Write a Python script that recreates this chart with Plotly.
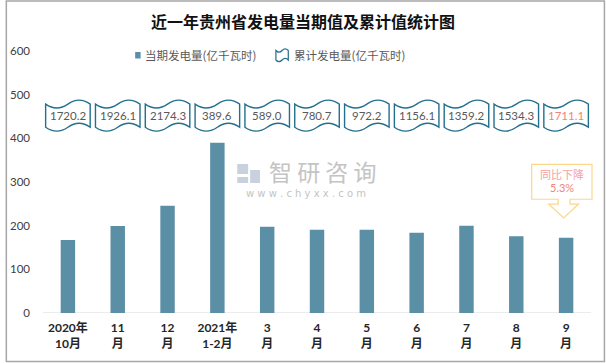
import plotly.graph_objects as go

# ---------------- data ----------------
categories = ["2020年<br>10月", "11<br>月", "12<br>月", "2021年<br>1-2月", "3<br>月", "4<br>月",
              "5<br>月", "6<br>月", "7<br>月", "8<br>月", "9<br>月"]
current_values = [167.2, 199.5, 245.6, 389.6, 197.5, 190.9, 190.6, 183.9, 199.9, 176.0, 172.5]
cumulative_values = [1720.2, 1926.1, 2174.3, 389.6, 589.0, 780.7, 972.2, 1156.1, 1359.2, 1534.3, 1711.1]
y_ticks = [0, 100, 200, 300, 400, 500, 600]
series_names = ["当期发电量(亿千瓦时)", "累计发电量(亿千瓦时)"]
title_text = "近一年贵州省发电量当期值及累计值统计图"
yoy_label = "同比下降"
yoy_value = "5.3%"

# ---------------- styles / layout geometry ----------------
W_FIG, H_FIG = 606, 363
L, R, T, B = 38, 10, 51, 50
PW = W_FIG - L - R
PH = H_FIG - T - B
BAR_COLOR = "#5B8FA6"
BOX_LINE = "#236F8E"
TXT = "#595959"
CJK = "Noto Sans CJK SC"
NUM = "Lato, 'Noto Sans CJK SC'"

def fx(px):
    return (px - L) / PW

def fy(py):
    return (H_FIG - B - py) / PH

n = len(categories)
xs = list(range(n))

fig = go.Figure()
fig.add_trace(go.Bar(
    x=xs, y=current_values, width=0.29,
    marker=dict(color=BAR_COLOR, line=dict(width=0)),
    name=series_names[0], showlegend=False,
))

shapes = []
annotations = []

# baseline
shapes.append(dict(type="line", xref="x", yref="y", x0=-0.5, x1=n - 0.5, y0=0, y1=0,
                   line=dict(color="#D9D9D9", width=1), layer="below"))

# wave (punched-tape) boxes with cumulative values
box_yc, box_hh, box_hw, wav = 452, 26.5, 0.447, 18

def wave_path(cx, yc, hw, hh, a):
    x0, x1 = cx - hw, cx + hw
    w = x1 - x0
    yt, yb = yc + hh, yc - hh
    return (f"M {x0},{yt} Q {x0 + w/4},{yt - a} {x0 + w/2},{yt} "
            f"Q {x0 + 3*w/4},{yt + a} {x1},{yt} L {x1},{yb} "
            f"Q {x0 + 3*w/4},{yb + a} {x0 + w/2},{yb} "
            f"Q {x0 + w/4},{yb - a} {x0},{yb} Z")

for i, v in enumerate(cumulative_values):
    shapes.append(dict(type="path", xref="x", yref="y",
                       path=wave_path(xs[i], box_yc, box_hw, box_hh, wav),
                       fillcolor="white", line=dict(color=BOX_LINE, width=1.4)))
    annotations.append(dict(x=xs[i], y=box_yc, xref="x", yref="y", text=f"{v:.1f}",
                            showarrow=False, font=dict(family=NUM, size=11.5,
                            color="#F08575" if i == n - 1 else TXT)))

# callout above last bar
cx = xs[-1] - 0.05
ytop = current_values[-1] + 168
yrb = current_values[-1] + 88
yhs = current_values[-1] + 77
ytip = current_values[-1] + 45
callout = (f"M {cx - 0.64},{ytop} L {cx + 0.57},{ytop} L {cx + 0.57},{yrb} "
           f"L {cx + 0.13},{yrb} L {cx + 0.13},{yhs} L {cx + 0.3},{yhs} L {cx},{ytip} "
           f"L {cx - 0.3},{yhs} L {cx - 0.11},{yhs} L {cx - 0.11},{yrb} L {cx - 0.64},{yrb} Z")
shapes.append(dict(type="path", xref="x", yref="y", path=callout, fillcolor="white",
                   line=dict(color="#FCD68A", width=1.2)))
annotations.append(dict(x=cx - 0.04, y=ytop - 22, xref="x", yref="y", text=yoy_label, showarrow=False,
                        font=dict(family=CJK, size=11, color="#F4A3A3")))
annotations.append(dict(x=cx - 0.04, y=ytop - 52, xref="x", yref="y", text=yoy_value, showarrow=False,
                        font=dict(family=NUM, size=11, color="#F08575")))

# legend
shapes.append(dict(type="rect", xref="paper", yref="paper", x0=fx(131), x1=fx(136.5),
                   y0=fy(58.5), y1=fy(52), fillcolor=BAR_COLOR, line=dict(width=0)))
annotations.append(dict(x=fx(139), y=fy(55), xref="paper", yref="paper", text=series_names[0],
                        xanchor="left", yanchor="middle", showarrow=False,
                        font=dict(family=CJK, size=11.5, color=TXT)))
lx0, lx1, ly0, ly1 = fx(273), fx(285.5), fy(60), fy(50.5)
lw = lx1 - lx0
la = (ly1 - ly0) * 0.35
shapes.append(dict(type="path", xref="paper", yref="paper",
                   path=(f"M {lx0},{ly1} Q {lx0 + lw/4},{ly1 - la} {lx0 + lw/2},{ly1} "
                         f"Q {lx0 + 3*lw/4},{ly1 + la} {lx1},{ly1} L {lx1},{ly0} "
                         f"Q {lx0 + 3*lw/4},{ly0 + la} {lx0 + lw/2},{ly0} "
                         f"Q {lx0 + lw/4},{ly0 - la} {lx0},{ly0} Z"),
                   fillcolor="white", line=dict(color=BOX_LINE, width=1.2)))
annotations.append(dict(x=fx(289), y=fy(55), xref="paper", yref="paper", text=series_names[1],
                        xanchor="left", yanchor="middle", showarrow=False,
                        font=dict(family=CJK, size=11.5, color=TXT)))

# watermark
annotations.append(dict(x=fx(320), y=fy(171), xref="paper", yref="paper", text="智 研 咨 询",
                        showarrow=False, font=dict(family=CJK, size=23, color="#C4C4C4")))
annotations.append(dict(x=fx(303), y=fy(193), xref="paper", yref="paper",
                        text="w w w . c h y x x . c o m",
                        showarrow=False, font=dict(family="DejaVu Sans", size=10, color="#C4C4C4")))
shapes.append(dict(type="rect", xref="paper", yref="paper", x0=fx(234), x1=fx(245),
                   y0=fy(174), y1=fy(164), fillcolor="#C9D1DE", line=dict(width=0)))
shapes.append(dict(type="rect", xref="paper", yref="paper", x0=fx(247), x1=fx(257),
                   y0=fy(183), y1=fy(170), fillcolor="#C9D1DE", line=dict(width=0)))
shapes.append(dict(type="rect", xref="paper", yref="paper", x0=fx(234), x1=fx(245),
                   y0=fy(183), y1=fy(177), fillcolor="#C9D1DE", line=dict(width=0)))

# outer border
shapes.append(dict(type="rect", xref="paper", yref="paper", x0=fx(1), x1=fx(604.5),
                   y0=fy(361.5), y1=fy(1), line=dict(color="#A6A6A6", width=1.5),
                   fillcolor="rgba(0,0,0,0)"))

fig.update_layout(
    width=W_FIG, height=H_FIG,
    margin=dict(l=L, r=R, t=T, b=B),
    paper_bgcolor="white", plot_bgcolor="white",
    title=dict(text=title_text, x=0.5, xref="container", xanchor="center",
               y=1 - 22 / H_FIG, yref="container", yanchor="middle",
               font=dict(family=CJK, size=16, color="#111111", weight="bold")),
    showlegend=False,
    shapes=shapes, annotations=annotations,
    bargap=0.7,
    hovermode=False,
)
fig.update_xaxes(range=[-0.5, n - 0.4], tickvals=xs, ticktext=categories,
                 showgrid=False, zeroline=False, showline=False, ticks="",
                 ticklabelstandoff=6,
                 tickfont=dict(family=NUM, size=12, color="#262626", weight="bold"))
fig.update_yaxes(range=[0, 600], tickvals=y_ticks, showgrid=False, zeroline=False,
                 showline=False, ticks="", ticklabelstandoff=12,
                 tickfont=dict(family=NUM, size=11.5, color="#404040"))

fig.write_html("out.html", config={"displayModeBar": False},
               post_script="document.body.style.margin='0';document.body.style.overflow='hidden';")
